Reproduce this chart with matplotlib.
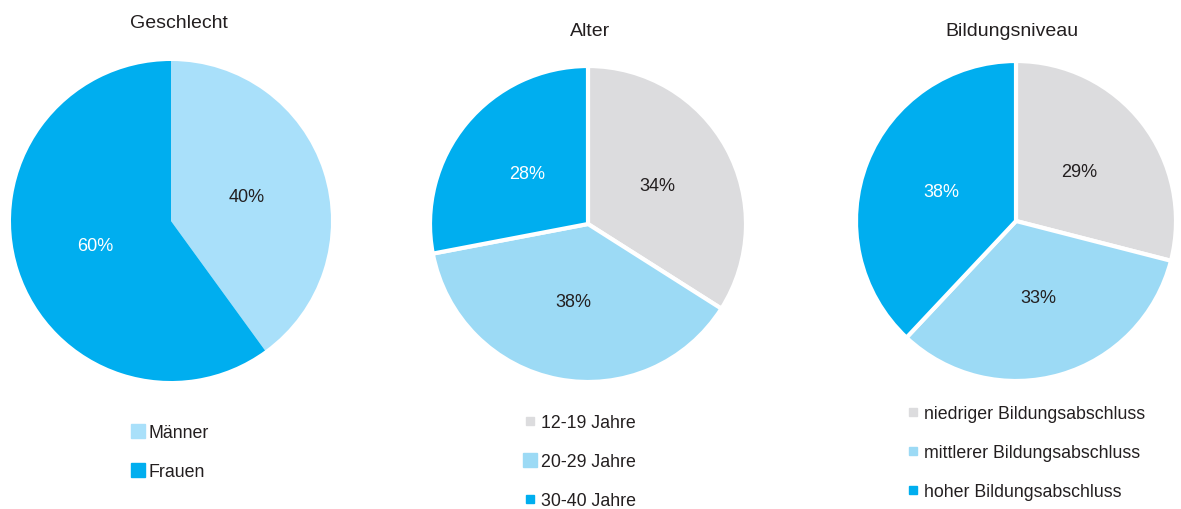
import matplotlib
matplotlib.use("Agg")
import matplotlib.pyplot as plt
from matplotlib.lines import Line2D

plt.rcParams['font.family'] = ['Liberation Sans', 'DejaVu Sans']

BLUE = "#00aeef"
LIGHT1 = "#a9e0fa"
LIGHT = "#9cdaf5"
GRAY = "#dcdcde"
TXT = "#231f20"

# data
titles = ["Geschlecht", "Alter", "Bildungsniveau"]
sex_labels = ["Männer", "Frauen"]
sex_values = [40, 60]
age_labels = ["12-19 Jahre", "20-29 Jahre", "30-40 Jahre"]
age_values = [34, 38, 28]
edu_labels = ["niedriger Bildungsabschluss", "mittlerer Bildungsabschluss", "hoher Bildungsabschluss"]
edu_values = [29, 33, 38]

W, H = 1181, 510
fig = plt.figure(figsize=(W / 100, H / 100), dpi=100)


def pie_axes(cx, cy, r):
    ax = fig.add_axes([(cx - r) / W, 1 - (cy + r) / H, 2 * r / W, 2 * r / H])
    ax.axis("off")
    return ax


charts = [
    # values, labels, colors, pct text colors, edge width, center, radius, legend marker sizes, legend pos, title, title pos
    (sex_values, sex_labels, [LIGHT1, BLUE], [TXT, "white"], 0, (171, 222), 160, [10, 10], (133, 425), titles[0], (179, 24)),
    (age_values, age_labels, [GRAY, LIGHT, BLUE], [TXT, TXT, "white"], 3, (588, 225), 158, [6, 10, 6], (525, 415), titles[1], (590, 31)),
    (edu_values, edu_labels, [GRAY, LIGHT, BLUE], [TXT, TXT, "white"], 3, (1016, 222), 160, [6, 6, 6], (908, 406), titles[2], (1012, 31)),
]

for vals, labs, cols, tcols, ew, (cx, cy), r, msizes, (lx, ly), title, (tx, ty) in charts:
    ax = pie_axes(cx, cy, r)
    wedges, texts, autotexts = ax.pie(
        vals, colors=cols, startangle=90, counterclock=False, radius=1,
        autopct="%d%%", pctdistance=0.5,
        wedgeprops=dict(edgecolor="white", linewidth=ew),
        textprops=dict(fontsize=13),
    )
    ax.set_xlim(-1, 1)
    ax.set_ylim(-1, 1)
    for t, c in zip(autotexts, tcols):
        t.set_color(c)
    fig.text(tx / W, 1 - ty / H, title, ha="center", va="center", fontsize=14, color=TXT)
    handles = [Line2D([], [], marker="s", linestyle="none", markersize=m, color=c)
               for m, c in zip(msizes, cols)]
    fig.legend(handles, labs, loc="upper left", bbox_to_anchor=(lx / W, 1 - ly / H),
               frameon=False, fontsize=12.8, labelspacing=1.23, handlelength=0.6,
               handletextpad=0.3, borderpad=0, borderaxespad=0, labelcolor=TXT)

fig.savefig("out.png", dpi=100, facecolor="white")
